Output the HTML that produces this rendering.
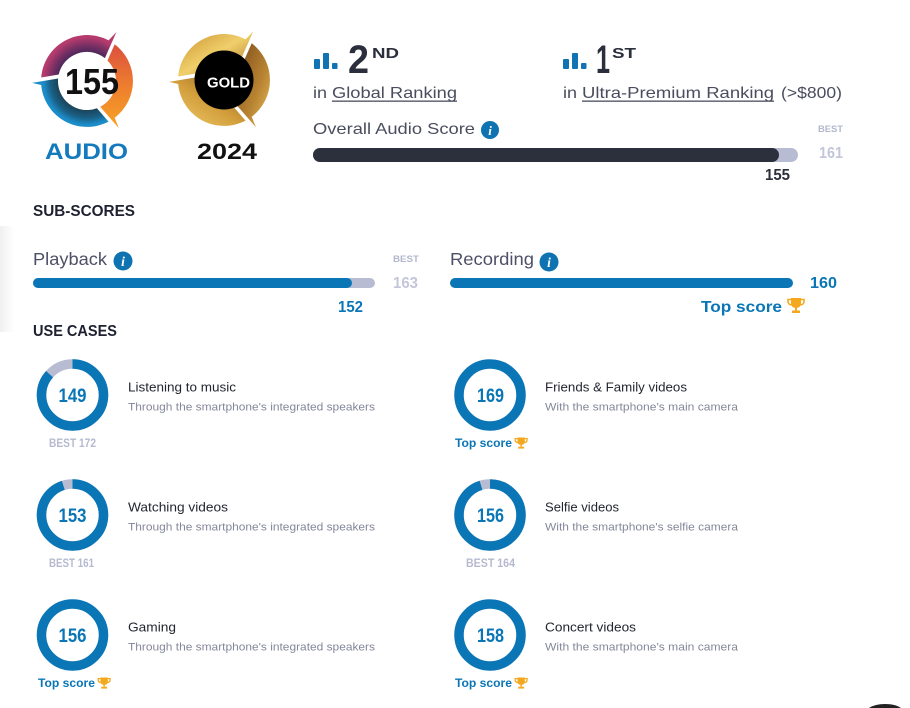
<!DOCTYPE html>
<html>
<head>
<meta charset="utf-8">
<style>
  html,body{margin:0;padding:0;background:#fff;}
  body{width:910px;height:708px;overflow:hidden;position:relative;}
  svg{display:block;font-family:"Liberation Sans",sans-serif;}
</style>
</head>
<body>
<svg width="910" height="708" viewBox="0 0 910 708" xmlns="http://www.w3.org/2000/svg">
  <defs>
    <linearGradient id="shadowL" x1="0" y1="0" x2="1" y2="0">
      <stop offset="0" stop-color="#000" stop-opacity="0.06"/>
      <stop offset="1" stop-color="#000" stop-opacity="0"/>
    </linearGradient>
    <radialGradient id="gPurple" cx="87" cy="81" r="46" gradientUnits="userSpaceOnUse">
      <stop offset="0.6" stop-color="#45265a"/>
      <stop offset="0.78" stop-color="#7a3064"/>
      <stop offset="0.95" stop-color="#b63b6d"/>
    </radialGradient>
    <linearGradient id="gOrange" x1="0" y1="0" x2="0" y2="1">
      <stop offset="0" stop-color="#dc4f3e"/>
      <stop offset="0.45" stop-color="#ec7a30"/>
      <stop offset="1" stop-color="#f7a424"/>
    </linearGradient>
    <radialGradient id="gBlue" cx="87" cy="81" r="46" gradientUnits="userSpaceOnUse">
      <stop offset="0.6" stop-color="#1b3f52"/>
      <stop offset="0.8" stop-color="#1a5f84"/>
      <stop offset="0.95" stop-color="#1b8dc9"/>
    </radialGradient>
    <linearGradient id="gGold1" x1="0" y1="0" x2="1" y2="1">
      <stop offset="0" stop-color="#c8902e"/>
      <stop offset="0.5" stop-color="#f0cf6a"/>
      <stop offset="1" stop-color="#a86f22"/>
    </linearGradient>
    <linearGradient id="gGold2" x1="0" y1="0" x2="1" y2="1">
      <stop offset="0" stop-color="#7b4b18"/>
      <stop offset="0.6" stop-color="#b98533"/>
      <stop offset="1" stop-color="#e7bd58"/>
    </linearGradient>
    <linearGradient id="gGold3" x1="1" y1="0" x2="0" y2="1">
      <stop offset="0" stop-color="#8a5a1e"/>
      <stop offset="0.5" stop-color="#d29e3c"/>
      <stop offset="1" stop-color="#f2cf6c"/>
    </linearGradient>
  </defs>

  <!-- faint left shadow -->
  <rect x="0" y="226" width="14" height="106" fill="url(#shadowL)"/>

  <!-- ===== 155 AUDIO logo ===== -->
  <g>
    <path d="M41.2,77.5 A46,46 0 0 1 108.6,40.4 L116.4,32.1 L104.9,58.1 A29,29 0 0 0 58.7,74.5 Z" fill="url(#gPurple)"/>
    <path d="M114.7,44.3 A46,46 0 0 1 114.7,117.7 L118.9,128.3 L100.2,106.8 A29,29 0 0 0 107.5,60.5 Z" fill="url(#gOrange)"/>
    <path d="M108.5,121.6 A46,46 0 0 1 41.2,85.0 L32.0,82.9 L58.1,78.5 A29,29 0 0 0 96.9,108.3 Z" fill="url(#gBlue)"/>
    <circle cx="87" cy="81" r="28.5" fill="#fff"/>
    <text x="65" y="94" font-size="36" font-weight="bold" fill="#111" textLength="54" lengthAdjust="spacingAndGlyphs">155</text>
  </g>
  <text x="45" y="159" font-size="22" font-weight="bold" fill="#1479bd" textLength="83" lengthAdjust="spacingAndGlyphs">AUDIO</text>

  <!-- ===== GOLD logo ===== -->
  <g transform="translate(137,-1)">
    <path d="M41.2,77.5 A46,46 0 0 1 108.6,40.4 L116.4,32.1 L104.9,58.1 A29,29 0 0 0 58.7,74.5 Z" fill="url(#gGold1)"/>
    <path d="M114.7,44.3 A46,46 0 0 1 114.7,117.7 L118.9,128.3 L100.2,106.8 A29,29 0 0 0 107.5,60.5 Z" fill="url(#gGold2)"/>
    <path d="M108.5,121.6 A46,46 0 0 1 41.2,85.0 L32.0,82.9 L58.1,78.5 A29,29 0 0 0 96.9,108.3 Z" fill="url(#gGold3)"/>
    <circle cx="87" cy="81" r="29.5" fill="#000"/>
  </g>
  <text x="207" y="87.5" font-size="15" font-weight="bold" fill="#fff" textLength="43" lengthAdjust="spacingAndGlyphs">GOLD</text>
  <text x="197" y="159" font-size="22" font-weight="bold" fill="#111" textLength="60" lengthAdjust="spacingAndGlyphs">2024</text>

  <!-- ===== Rankings ===== -->
  <g fill="#1273b4">
    <rect x="314" y="59" width="6" height="10" rx="1"/>
    <rect x="323" y="53" width="6" height="16" rx="1"/>
    <rect x="332" y="63" width="5.5" height="6" rx="1"/>
  </g>
  <text x="348" y="73" font-size="40" font-weight="bold" fill="#2b2e3b" textLength="21" lengthAdjust="spacingAndGlyphs">2</text>
  <text x="372" y="58" font-size="15" font-weight="bold" fill="#2b2e3b" textLength="27" lengthAdjust="spacingAndGlyphs">ND</text>
  <text x="313" y="98" font-size="16" fill="#4a4d5e" textLength="14" lengthAdjust="spacingAndGlyphs">in</text>
  <text x="332" y="98" font-size="16" fill="#4a4d5e" textLength="125" lengthAdjust="spacingAndGlyphs">Global Ranking</text>
  <rect x="332" y="100.5" width="125" height="1.3" fill="#4a4d5e"/>

  <g fill="#1273b4">
    <rect x="563" y="59" width="6" height="10" rx="1"/>
    <rect x="572" y="53" width="6" height="16" rx="1"/>
    <rect x="581" y="63" width="5.5" height="6" rx="1"/>
  </g>
  <text x="596" y="73" font-size="40" font-weight="bold" fill="#2b2e3b" textLength="14" lengthAdjust="spacingAndGlyphs">1</text>
  <text x="612" y="58" font-size="15" font-weight="bold" fill="#2b2e3b" textLength="24" lengthAdjust="spacingAndGlyphs">ST</text>
  <text x="563" y="98" font-size="16" fill="#4a4d5e" textLength="14" lengthAdjust="spacingAndGlyphs">in</text>
  <text x="582" y="98" font-size="16" fill="#4a4d5e" textLength="192" lengthAdjust="spacingAndGlyphs">Ultra-Premium Ranking</text>
  <rect x="582" y="100.5" width="192" height="1.3" fill="#4a4d5e"/>
  <text x="781" y="98" font-size="16" fill="#4a4d5e" textLength="61" lengthAdjust="spacingAndGlyphs">(&gt;$800)</text>

  <!-- Overall Audio Score -->
  <text x="313" y="134" font-size="16" fill="#4a4d5e" textLength="162" lengthAdjust="spacingAndGlyphs">Overall Audio Score</text>
  <circle cx="490" cy="130" r="9" fill="#0f73b1"/>
  <text x="490" y="135" font-size="13" font-weight="bold" font-style="italic" fill="#fff" text-anchor="middle" font-family="Liberation Serif, serif">i</text>
  <text x="818" y="132" font-size="9.5" font-weight="bold" fill="#b3b7cc" textLength="25" lengthAdjust="spacingAndGlyphs">BEST</text>
  <text x="819" y="158" font-size="16" font-weight="bold" fill="#c3c6d9" textLength="24" lengthAdjust="spacingAndGlyphs">161</text>
  <rect x="313" y="148" width="485" height="14" rx="7" fill="#b8bcd3"/>
  <rect x="313" y="148" width="466" height="14" rx="7" fill="#2c303d"/>
  <text x="765" y="180" font-size="16" font-weight="bold" fill="#2b2e3b" textLength="25" lengthAdjust="spacingAndGlyphs">155</text>

  <!-- ===== SUB-SCORES ===== -->
  <text x="33" y="216" font-size="15.5" font-weight="bold" fill="#1e2130" textLength="102" lengthAdjust="spacingAndGlyphs">SUB-SCORES</text>

  <text x="33" y="265" font-size="17.5" fill="#4d5066" textLength="74" lengthAdjust="spacingAndGlyphs">Playback</text>
  <circle cx="123" cy="261" r="9.5" fill="#0f73b1"/>
  <text x="123" y="266" font-size="13.5" font-weight="bold" font-style="italic" fill="#fff" text-anchor="middle" font-family="Liberation Serif, serif">i</text>
  <text x="393" y="262" font-size="9.5" font-weight="bold" fill="#b3b7cc" textLength="26" lengthAdjust="spacingAndGlyphs">BEST</text>
  <text x="393" y="288" font-size="16" font-weight="bold" fill="#c3c6d9" textLength="25" lengthAdjust="spacingAndGlyphs">163</text>
  <rect x="33" y="278" width="342" height="10" rx="5" fill="#b8bcd3"/>
  <rect x="33" y="278" width="319" height="10" rx="5" fill="#0a76b6"/>
  <text x="338" y="312" font-size="16" font-weight="bold" fill="#0a76b6" textLength="25" lengthAdjust="spacingAndGlyphs">152</text>

  <text x="450" y="265" font-size="17.5" fill="#4d5066" textLength="84" lengthAdjust="spacingAndGlyphs">Recording</text>
  <circle cx="549" cy="262" r="9.5" fill="#0f73b1"/>
  <text x="549" y="267" font-size="13.5" font-weight="bold" font-style="italic" fill="#fff" text-anchor="middle" font-family="Liberation Serif, serif">i</text>
  <rect x="450" y="278" width="343" height="10" rx="5" fill="#0a76b6"/>
  <text x="810" y="288" font-size="16" font-weight="bold" fill="#0a76b6" textLength="27" lengthAdjust="spacingAndGlyphs">160</text>
  <text x="701" y="312" font-size="16" font-weight="bold" fill="#0a76b6" textLength="81" lengthAdjust="spacingAndGlyphs">Top score</text>
  <g transform="translate(787,298)" fill="#f4a81d">
    <path d="M4,0 H14 V5 C14,8.5 11.5,10 9,10 C6.5,10 4,8.5 4,5 Z"/>
    <path d="M4,1.5 H1 V3.5 C1,5.5 2.5,6.8 4.6,6.8 M14,1.5 H17 V3.5 C17,5.5 15.5,6.8 13.4,6.8" fill="none" stroke="#f4a81d" stroke-width="1.6"/>
    <rect x="8" y="10" width="2" height="2.6"/>
    <rect x="5" y="12.5" width="8" height="2.5"/>
  </g>

  <!-- ===== USE CASES ===== -->
  <text x="33" y="336" font-size="15.5" font-weight="bold" fill="#1e2130" textLength="84" lengthAdjust="spacingAndGlyphs">USE CASES</text>

  <!-- Row 1 left: 149 -->
  <circle cx="72.5" cy="395" r="31" fill="none" stroke="#b8bcd3" stroke-width="9.5"/>
  <circle cx="72.5" cy="395" r="31" fill="none" stroke="#0a76b6" stroke-width="9.5" stroke-dasharray="168.7 400" transform="rotate(-90 72.5 395)"/>
  <text x="58.5" y="402" font-size="19" font-weight="bold" fill="#0a76b6" textLength="28" lengthAdjust="spacingAndGlyphs">149</text>
  <text x="49" y="447" font-size="11.5" font-weight="bold" fill="#b6bad0" textLength="47" lengthAdjust="spacingAndGlyphs">BEST 172</text>
  <text x="128" y="391.5" font-size="13" fill="#24262f" textLength="108" lengthAdjust="spacingAndGlyphs">Listening to music</text>
  <text x="128" y="410.5" font-size="11" fill="#84879a" textLength="247" lengthAdjust="spacingAndGlyphs">Through the smartphone's integrated speakers</text>

  <!-- Row 2 left: 153 -->
  <circle cx="72.5" cy="515" r="31" fill="none" stroke="#b8bcd3" stroke-width="9.5"/>
  <circle cx="72.5" cy="515" r="31" fill="none" stroke="#0a76b6" stroke-width="9.5" stroke-dasharray="185.1 400" transform="rotate(-90 72.5 515)"/>
  <text x="58.5" y="522" font-size="19" font-weight="bold" fill="#0a76b6" textLength="28" lengthAdjust="spacingAndGlyphs">153</text>
  <text x="49" y="567" font-size="11.5" font-weight="bold" fill="#b6bad0" textLength="45" lengthAdjust="spacingAndGlyphs">BEST 161</text>
  <text x="128" y="511.5" font-size="13" fill="#24262f" textLength="100" lengthAdjust="spacingAndGlyphs">Watching videos</text>
  <text x="128" y="530.5" font-size="11" fill="#84879a" textLength="247" lengthAdjust="spacingAndGlyphs">Through the smartphone's integrated speakers</text>

  <!-- Row 3 left: 156 -->
  <circle cx="72.5" cy="635" r="31" fill="none" stroke="#0a76b6" stroke-width="9.5"/>
  <text x="58.5" y="642" font-size="19" font-weight="bold" fill="#0a76b6" textLength="28" lengthAdjust="spacingAndGlyphs">156</text>
  <text x="38" y="687" font-size="11.5" font-weight="bold" fill="#0a76b6" textLength="57" lengthAdjust="spacingAndGlyphs">Top score</text>
  <g transform="translate(97.5,677.5) scale(0.74)" fill="#f4a81d">
    <path d="M4,0 H14 V5 C14,8.5 11.5,10 9,10 C6.5,10 4,8.5 4,5 Z"/>
    <path d="M4,1.5 H1 V3.5 C1,5.5 2.5,6.8 4.6,6.8 M14,1.5 H17 V3.5 C17,5.5 15.5,6.8 13.4,6.8" fill="none" stroke="#f4a81d" stroke-width="1.8"/>
    <rect x="8" y="10" width="2" height="2.6"/>
    <rect x="5" y="12.5" width="8" height="2.5"/>
  </g>
  <text x="128" y="631.5" font-size="13" fill="#24262f" textLength="48" lengthAdjust="spacingAndGlyphs">Gaming</text>
  <text x="128" y="650.5" font-size="11" fill="#84879a" textLength="247" lengthAdjust="spacingAndGlyphs">Through the smartphone's integrated speakers</text>

  <!-- Row 1 right: 169 -->
  <circle cx="490" cy="395" r="31" fill="none" stroke="#0a76b6" stroke-width="9.5"/>
  <text x="477" y="402" font-size="19" font-weight="bold" fill="#0a76b6" textLength="27" lengthAdjust="spacingAndGlyphs">169</text>
  <text x="455" y="447" font-size="11.5" font-weight="bold" fill="#0a76b6" textLength="57" lengthAdjust="spacingAndGlyphs">Top score</text>
  <g transform="translate(514.5,437.5) scale(0.74)" fill="#f4a81d">
    <path d="M4,0 H14 V5 C14,8.5 11.5,10 9,10 C6.5,10 4,8.5 4,5 Z"/>
    <path d="M4,1.5 H1 V3.5 C1,5.5 2.5,6.8 4.6,6.8 M14,1.5 H17 V3.5 C17,5.5 15.5,6.8 13.4,6.8" fill="none" stroke="#f4a81d" stroke-width="1.8"/>
    <rect x="8" y="10" width="2" height="2.6"/>
    <rect x="5" y="12.5" width="8" height="2.5"/>
  </g>
  <text x="545" y="391.5" font-size="13" fill="#24262f" textLength="142" lengthAdjust="spacingAndGlyphs">Friends &amp; Family videos</text>
  <text x="545" y="410.5" font-size="11" fill="#84879a" textLength="193" lengthAdjust="spacingAndGlyphs">With the smartphone's main camera</text>

  <!-- Row 2 right: 156 -->
  <circle cx="490" cy="515" r="31" fill="none" stroke="#b8bcd3" stroke-width="9.5"/>
  <circle cx="490" cy="515" r="31" fill="none" stroke="#0a76b6" stroke-width="9.5" stroke-dasharray="185.3 400" transform="rotate(-90 490 515)"/>
  <text x="477" y="522" font-size="19" font-weight="bold" fill="#0a76b6" textLength="27" lengthAdjust="spacingAndGlyphs">156</text>
  <text x="466" y="567" font-size="11.5" font-weight="bold" fill="#b6bad0" textLength="49" lengthAdjust="spacingAndGlyphs">BEST 164</text>
  <text x="545" y="511.5" font-size="13" fill="#24262f" textLength="74" lengthAdjust="spacingAndGlyphs">Selfie videos</text>
  <text x="545" y="530.5" font-size="11" fill="#84879a" textLength="193" lengthAdjust="spacingAndGlyphs">With the smartphone's selfie camera</text>

  <!-- Row 3 right: 158 -->
  <circle cx="490" cy="635" r="31" fill="none" stroke="#0a76b6" stroke-width="9.5"/>
  <text x="477" y="642" font-size="19" font-weight="bold" fill="#0a76b6" textLength="27" lengthAdjust="spacingAndGlyphs">158</text>
  <text x="455" y="687" font-size="11.5" font-weight="bold" fill="#0a76b6" textLength="57" lengthAdjust="spacingAndGlyphs">Top score</text>
  <g transform="translate(514.5,677.5) scale(0.74)" fill="#f4a81d">
    <path d="M4,0 H14 V5 C14,8.5 11.5,10 9,10 C6.5,10 4,8.5 4,5 Z"/>
    <path d="M4,1.5 H1 V3.5 C1,5.5 2.5,6.8 4.6,6.8 M14,1.5 H17 V3.5 C17,5.5 15.5,6.8 13.4,6.8" fill="none" stroke="#f4a81d" stroke-width="1.8"/>
    <rect x="8" y="10" width="2" height="2.6"/>
    <rect x="5" y="12.5" width="8" height="2.5"/>
  </g>
  <text x="545" y="631.5" font-size="13" fill="#24262f" textLength="91" lengthAdjust="spacingAndGlyphs">Concert videos</text>
  <text x="545" y="650.5" font-size="11" fill="#84879a" textLength="193" lengthAdjust="spacingAndGlyphs">With the smartphone's main camera</text>

  <!-- bottom-right partial dark circle (visible cap only) -->
  <path d="M869,708 Q875,704 885,704 Q895,704 901,708 Z" fill="#222"/>
</svg>
</body>
</html>
